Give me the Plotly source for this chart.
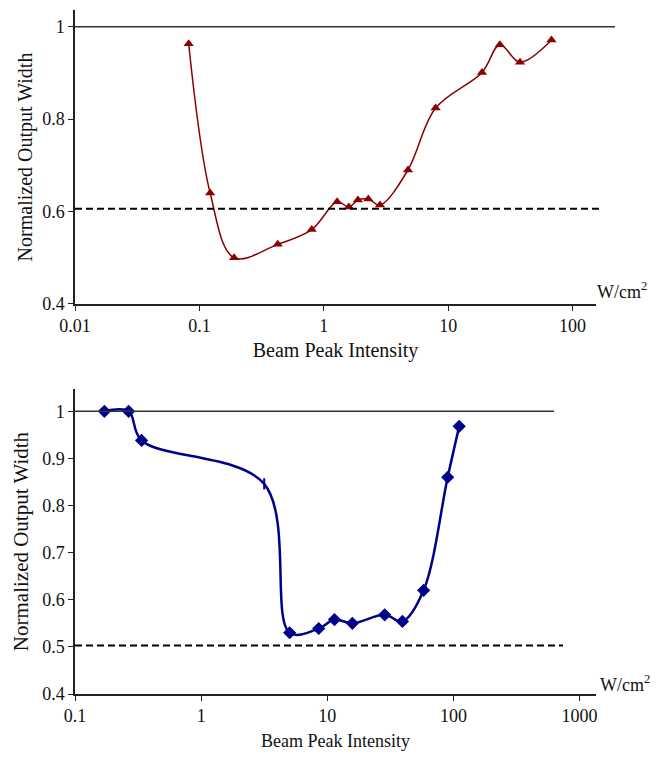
import plotly.graph_objects as go

# ---- data: top panel ----
top_intensity = [0.082, 0.122, 0.19, 0.426, 0.80, 1.28, 1.59, 1.88, 2.28, 2.83,
                 4.75, 7.92, 18.7, 26.0, 37.8, 67.6]
top_width = [0.963, 0.640, 0.500, 0.529, 0.561, 0.621, 0.610, 0.625, 0.627, 0.614,
             0.690, 0.824, 0.901, 0.961, 0.923, 0.971]
top_dashed_level = 0.606
top_xticks = [0.01, 0.1, 1, 10, 100]
top_xticktext = ["0.01", "0.1", "1", "10", "100"]
top_yticks = [0.4, 0.6, 0.8, 1.0]
top_yticktext = ["0.4", "0.6", "0.8", "1"]

# ---- data: bottom panel ----
bot_intensity = [0.171, 0.266, 0.337, 3.16, 5.03, 8.55, 11.4, 15.8, 28.5, 39.4,
                 58.0, 90.0, 111.0]
bot_width = [1.000, 1.000, 0.938, 0.846, 0.530, 0.539, 0.558, 0.550, 0.568, 0.554,
             0.620, 0.860, 0.968]
bot_dashed_level = 0.503
bot_xticks = [0.1, 1, 10, 100, 1000]
bot_xticktext = ["0.1", "1", "10", "100", "1000"]
bot_yticks = [0.4, 0.5, 0.6, 0.7, 0.8, 0.9, 1.0]
bot_yticktext = ["0.4", "0.5", "0.6", "0.7", "0.8", "0.9", "1"]

unity_level = 1.0
x_title = "Beam Peak Intensity"
y_title = "Normalized Output Width"
unit_label = "W/cm<sup>2</sup>"

W, H = 661, 758
ml = 75
mt = 10
mb = H - 701
mr = W - 596
pw = W - ml - mr
ph = H - mt - mb


def py(pix):
    return (H - mb - pix) / ph


def px(pix):
    return (pix - ml) / pw


FONT = "Liberation Serif"

fig = go.Figure()
fig.add_trace(go.Scatter(
    x=top_intensity, y=top_width, mode="lines+markers",
    line=dict(color="#8b0000", width=1.5, shape="spline", smoothing=1.0),
    marker=dict(symbol="triangle-up", size=9, color="#8b0000"),
    xaxis="x", yaxis="y", showlegend=False))
fig.add_trace(go.Scatter(
    x=bot_intensity, y=bot_width, mode="lines+markers",
    line=dict(color="#00008b", width=2.5, shape="spline", smoothing=1.0),
    marker=dict(symbol=["diamond"] * 3 + ["line-ns"] + ["diamond"] * 9, size=8,
                color="#00008b", line=dict(color="#00008b", width=2)),
    xaxis="x2", yaxis="y2", showlegend=False))

axis_common = dict(showline=True, linecolor="#222", linewidth=1.5, ticks="outside",
                   ticklen=5, tickcolor="#222", showgrid=False, zeroline=False,
                   tickfont=dict(family=FONT, size=18, color="#111"))

fig.update_layout(
    width=W, height=H, margin=dict(l=ml, r=mr, t=mt, b=mb),
    paper_bgcolor="white", plot_bgcolor="white",
    xaxis=dict(type="log", range=[-2, 2.188], domain=[0, 1], anchor="y",
               tickvals=top_xticks, ticktext=top_xticktext,
               title=dict(text=x_title, font=dict(family=FONT, size=20, color="#111"), standoff=8),
               **axis_common),
    yaxis=dict(range=[0.4, 1.036], domain=[py(307), 1.0], anchor="x",
               tickvals=top_yticks, ticktext=top_yticktext,
               title=dict(text=y_title, font=dict(family=FONT, size=20, color="#111"), standoff=4),
               **axis_common),
    xaxis2=dict(type="log", range=[-1, 3.13], domain=[0, 1], anchor="y2",
                tickvals=bot_xticks, ticktext=bot_xticktext,
                title=dict(text=x_title, font=dict(family=FONT, size=18, color="#111"), standoff=9),
                **axis_common),
    yaxis2=dict(range=[0.4, 1.047], domain=[0, py(393)], anchor="x2",
                tickvals=bot_yticks, ticktext=bot_yticktext,
                title=dict(text=y_title, font=dict(family=FONT, size=21, color="#111"), standoff=8),
                **axis_common),
)

# reference lines
fig.add_shape(type="line", xref="paper", yref="y", x0=0, x1=px(615),
              y0=unity_level, y1=unity_level, line=dict(color="#333", width=1.5))
fig.add_shape(type="line", xref="paper", yref="y", x0=0, x1=px(602),
              y0=top_dashed_level, y1=top_dashed_level,
              line=dict(color="black", width=2, dash="7px,4px"))
fig.add_shape(type="line", xref="paper", yref="y2", x0=0, x1=px(554),
              y0=unity_level, y1=unity_level, line=dict(color="#333", width=1.5))
fig.add_shape(type="line", xref="paper", yref="y2", x0=0, x1=px(563),
              y0=bot_dashed_level, y1=bot_dashed_level,
              line=dict(color="black", width=2, dash="7px,4px"))

# unit labels
fig.add_annotation(xref="paper", yref="paper", x=px(595), y=py(293), xanchor="left",
                   yanchor="middle", text=unit_label, showarrow=False,
                   font=dict(family=FONT, size=18, color="#111"))
fig.add_annotation(xref="paper", yref="paper", x=px(598), y=py(690), xanchor="left",
                   yanchor="middle", text=unit_label, showarrow=False,
                   font=dict(family=FONT, size=18, color="#111"))

fig.write_html(
    "out.html",
    config={"displayModeBar": False},
    post_script="document.body.style.margin='0';document.body.style.overflow='hidden';",
)
